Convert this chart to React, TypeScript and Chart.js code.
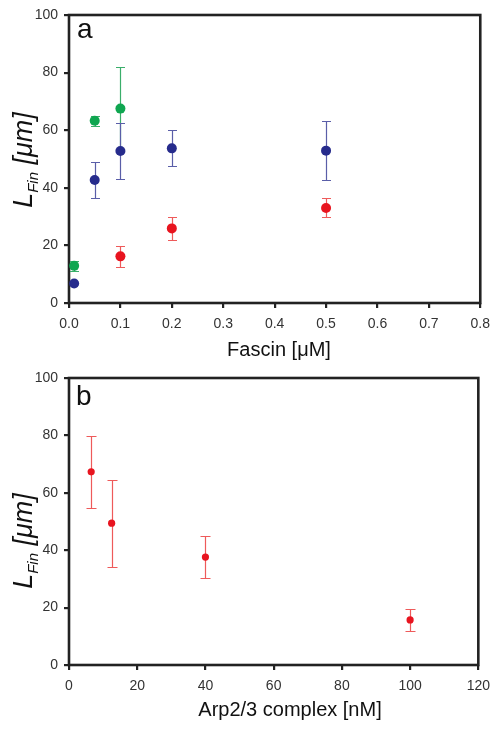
import React, { useEffect, useRef } from "react";
import { Chart, registerables } from "chart.js";
Chart.register(...registerables);

// Panel a: Fascin series
const fascinGreenX = [0.01, 0.05, 0.1];
const fascinGreenY = [12.9, 63.3, 67.5];
const fascinGreenErr = [1.7, 1.7, 14.5];
const fascinBlueX = [0.01, 0.05, 0.1, 0.2, 0.5];
const fascinBlueY = [6.8, 42.7, 52.8, 53.7, 52.9];
const fascinBlueErr = [0, 6.1, 9.7, 6.3, 10.2];
const fascinRedX = [0.1, 0.2, 0.5];
const fascinRedY = [16.2, 25.9, 33.0];
const fascinRedErr = [3.7, 4.1, 3.3];

// Panel b: Arp2/3 series
const arpX = [6.5, 12.5, 40, 100];
const arpY = [67.3, 49.4, 37.6, 15.7];
const arpErr = [12.6, 15.1, 7.4, 3.8];

const fascinTicks = [0, 0.1, 0.2, 0.3, 0.4, 0.5, 0.6, 0.7, 0.8];
const arpTicks = [0, 20, 40, 60, 80, 100, 120];
const yTicks = [0, 20, 40, 60, 80, 100];

const FONT = "'Liberation Sans', Arial, Helvetica, sans-serif";
const W = 498;

const pts = (xs: number[], ys: number[]) => xs.map((x, i) => ({ x, y: ys[i] }));

const figurePlugin = {
  id: "figure",
  beforeDatasetsDraw(chart: any) {
    const { ctx, chartArea } = chart;
    ctx.save();
    ctx.strokeStyle = "#222";
    ctx.lineWidth = 2.6;
    ctx.strokeRect(chartArea.left, chartArea.top, chartArea.right - chartArea.left, chartArea.bottom - chartArea.top);
    ctx.restore();
  },
  beforeDatasetDraw(chart: any, args: any) {
    const ds = chart.data.datasets[args.index];
    const errs: number[] = ds.errors || [];
    const xs = chart.scales.x;
    const ys = chart.scales.y;
    const ctx = chart.ctx;
    const cap = ds.capHalf || 4.5;
    ctx.save();
    ctx.strokeStyle = ds.errorColor;
    ctx.lineWidth = 1.2;
    ds.data.forEach((p: any, i: number) => {
      const e = errs[i];
      if (!e) return;
      const px = Math.round(xs.getPixelForValue(p.x)) + 0.5;
      const yt = Math.round(ys.getPixelForValue(p.y + e)) + 0.5;
      const yb = Math.round(ys.getPixelForValue(p.y - e)) + 0.5;
      ctx.beginPath();
      ctx.moveTo(px, yt);
      ctx.lineTo(px, yb);
      ctx.moveTo(px - cap, yt);
      ctx.lineTo(px + cap, yt);
      ctx.moveTo(px - cap, yb);
      ctx.lineTo(px + cap, yb);
      ctx.stroke();
    });
    ctx.restore();
  },
  afterDraw(chart: any) {
    const o = chart.options.plugins.figure;
    const { ctx } = chart;
    ctx.save();
    ctx.fillStyle = "#111";
    // panel letter
    ctx.font = `28px ${FONT}`;
    ctx.textBaseline = "alphabetic";
    ctx.textAlign = "left";
    ctx.fillText(o.panel, o.panelX, o.panelY);
    // x title
    ctx.font = `20px ${FONT}`;
    ctx.textAlign = "center";
    ctx.textBaseline = "middle";
    ctx.fillText(o.xTitle, o.xTitleX, o.xTitleY);
    // y title with subscript
    ctx.translate(o.yTitleX, o.yTitleY);
    ctx.rotate(-Math.PI / 2);
    ctx.textAlign = "left";
    ctx.textBaseline = "alphabetic";
    const big = `italic 27px ${FONT}`;
    const small = `italic 15px ${FONT}`;
    ctx.font = big;
    const wL = ctx.measureText("L").width;
    const wRest = ctx.measureText(" [μm]").width;
    ctx.font = small;
    const wSub = ctx.measureText("Fin").width;
    let x = -(wL + wSub + wRest) / 2;
    ctx.font = big;
    ctx.fillText("L", x, 0);
    x += wL;
    ctx.font = small;
    ctx.fillText("Fin", x, 6);
    x += wSub;
    ctx.font = big;
    ctx.fillText(" [μm]", x, 0);
    ctx.restore();
  },
};

function makeConfig(opts: any) {
  return {
    type: "scatter",
    data: { datasets: opts.datasets },
    options: {
      responsive: false,
      animation: false,
      events: [],
      layout: { padding: { top: opts.padTop, right: 17, left: 0, bottom: 0 } },
      plugins: {
        legend: { display: false },
        tooltip: { enabled: false },
        figure: opts.figure,
      },
      scales: {
        x: {
          type: "linear",
          min: opts.xMin,
          max: opts.xMax,
          afterFit: (s: any) => {
            s.height = opts.xAxisH;
          },
          afterBuildTicks: (s: any) => {
            s.ticks = opts.xTicks.map((v: number) => ({ value: v }));
          },
          border: { display: false },
          grid: {
            display: true,
            drawOnChartArea: false,
            drawTicks: true,
            tickLength: 5,
            color: "#222",
            lineWidth: 2.2,
          },
          ticks: {
            color: "#333",
            font: { family: FONT, size: 14 },
            padding: 8,
            maxRotation: 0,
            autoSkip: false,
            callback: opts.xFmt,
          },
        },
        y: {
          type: "linear",
          min: 0,
          max: 100,
          afterFit: (s: any) => {
            s.width = 69;
          },
          afterBuildTicks: (s: any) => {
            s.ticks = yTicks.map((v: number) => ({ value: v }));
          },
          border: { display: false },
          grid: {
            display: true,
            drawOnChartArea: false,
            drawTicks: true,
            tickLength: 5,
            color: "#222",
            lineWidth: 2.2,
          },
          ticks: {
            color: "#333",
            font: { family: FONT, size: 14 },
            padding: 6,
            autoSkip: false,
          },
        },
      },
    },
    plugins: [figurePlugin],
  };
}

function ChartCanvas({ config, top, height }: { config: any; top: number; height: number }) {
  const ref = useRef<HTMLCanvasElement | null>(null);
  useEffect(() => {
    if (!ref.current) return;
    const chart = new Chart(ref.current, config);
    return () => chart.destroy();
  }, []);
  return (
    <canvas
      ref={ref}
      width={W}
      height={height}
      style={{ position: "absolute", left: 0, top, width: W, height, display: "block" }}
    />
  );
}

export default function App() {
  const topH = 362;
  const botH = 371;
  const topConfig = makeConfig({
    padTop: 15,
    xMin: 0,
    xMax: 0.8,
    xAxisH: topH - 303,
    xTicks: fascinTicks,
    xFmt: (v: any) => Number(v).toFixed(1),
    figure: {
      panel: "a",
      panelX: 77,
      panelY: 38,
      xTitle: "Fascin [μM]",
      xTitleX: 279,
      xTitleY: 350,
      yTitleX: 32,
      yTitleY: 160,
    },
    datasets: [
      {
        data: pts(fascinBlueX, fascinBlueY),
        errors: fascinBlueErr,
        errorColor: "#5a5ea8",
        backgroundColor: "#262b8c",
        borderColor: "#262b8c",
        pointRadius: 5,
        borderWidth: 0,
        capHalf: 4.5,
      },
      {
        data: pts(fascinRedX, fascinRedY),
        errors: fascinRedErr,
        errorColor: "#ee5a5a",
        backgroundColor: "#e8141f",
        borderColor: "#e8141f",
        pointRadius: 5,
        borderWidth: 0,
        capHalf: 4.5,
      },
      {
        data: pts(fascinGreenX, fascinGreenY),
        errors: fascinGreenErr,
        errorColor: "#3aae6a",
        backgroundColor: "#0fa650",
        borderColor: "#0fa650",
        pointRadius: 5,
        borderWidth: 0,
        capHalf: 4.5,
      },
    ],
  });
  const botConfig = makeConfig({
    padTop: 18,
    xMin: 0,
    xMax: 120,
    xAxisH: botH - 305,
    xTicks: arpTicks,
    xFmt: (v: any) => String(v),
    figure: {
      panel: "b",
      panelX: 76,
      panelY: 45,
      xTitle: "Arp2/3 complex [nM]",
      xTitleX: 290,
      xTitleY: 350,
      yTitleX: 32,
      yTitleY: 181,
    },
    datasets: [
      {
        data: pts(arpX, arpY),
        errors: arpErr,
        errorColor: "#ee5a5a",
        backgroundColor: "#e8141f",
        borderColor: "#e8141f",
        pointRadius: 3.6,
        borderWidth: 0,
        capHalf: 5,
      },
    ],
  });
  return (
    <div style={{ position: "absolute", left: 0, top: 0, width: W, height: 731, background: "#fff" }}>
      <ChartCanvas config={topConfig} top={0} height={topH} />
      <ChartCanvas config={botConfig} top={360} height={botH} />
    </div>
  );
}
